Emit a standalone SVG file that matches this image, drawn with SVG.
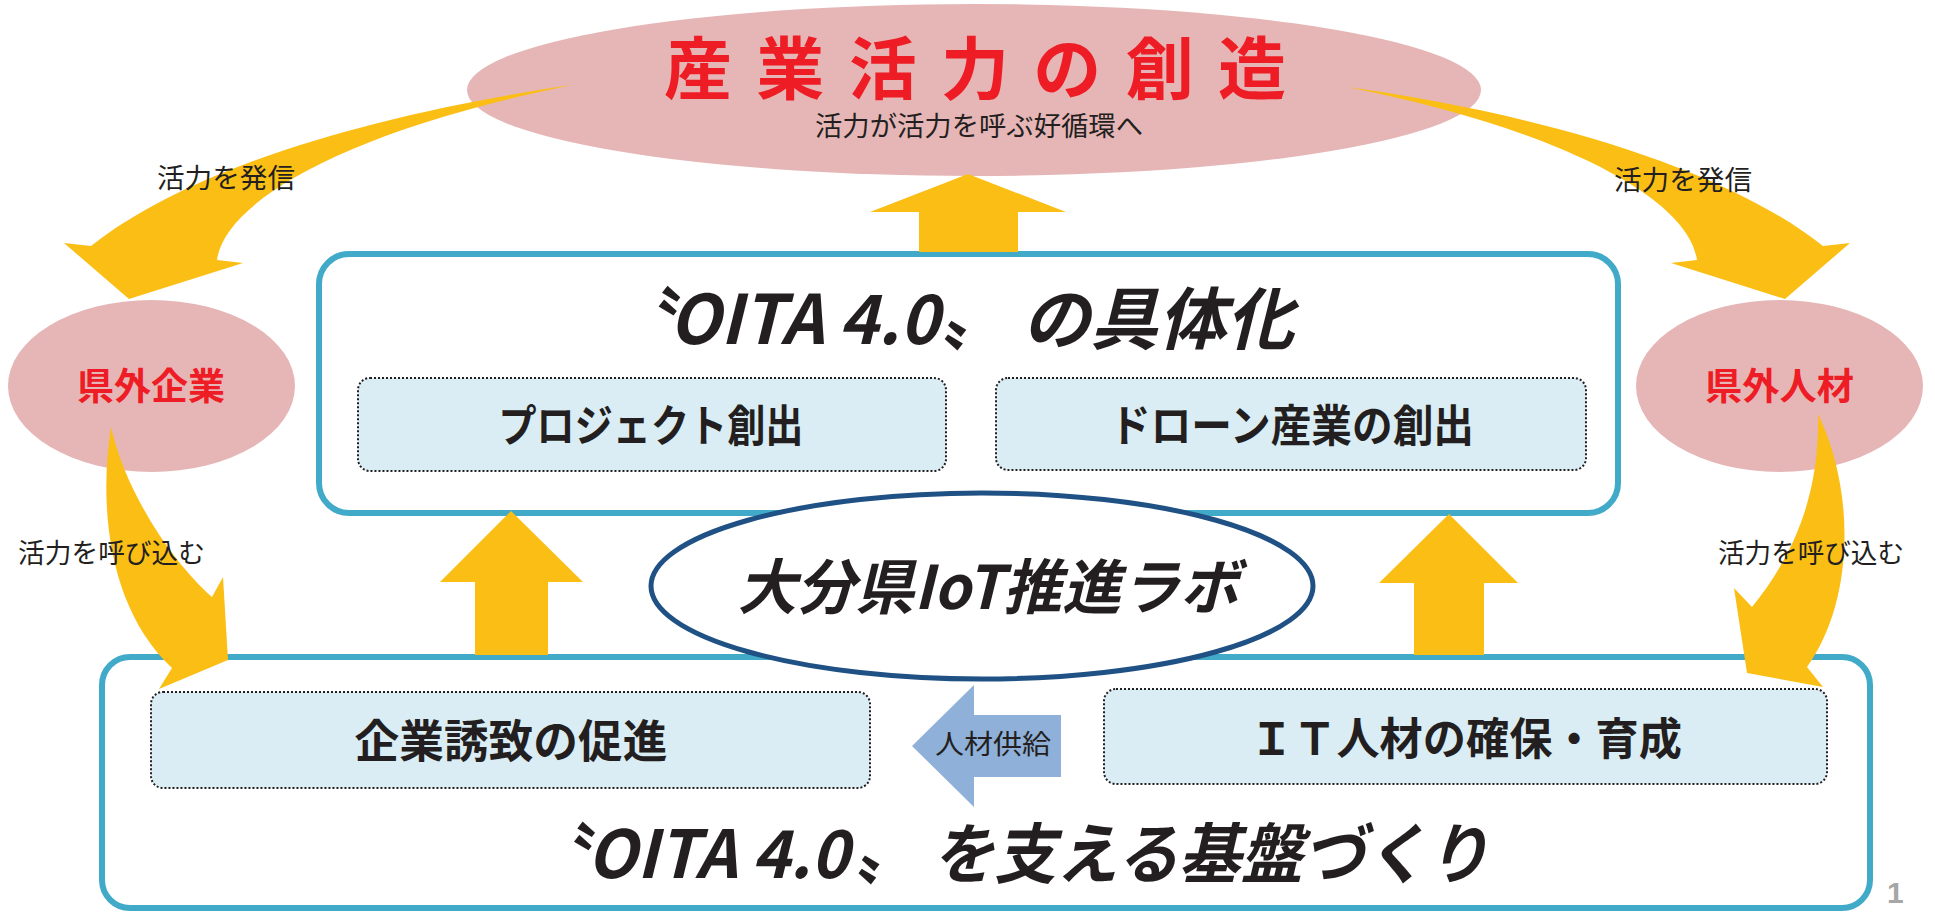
<svg xmlns="http://www.w3.org/2000/svg" width="1935" height="912" viewBox="0 0 1935 912">
<style>
.jp{font-family:"Noto Sans CJK JP","Noto Sans",sans-serif}
.pink{fill:#E6B6B6}
.frame{fill:#FFFFFF;stroke:#41AAC8;stroke-width:6}
.sub{fill:#DAEDF5;stroke:#231F20;stroke-width:2;stroke-dasharray:2 2}
.red{fill:#EE1C25;font-weight:700}
.blk{fill:#231F20}
.b{font-weight:700}
.it{font-style:italic;font-weight:700}
.lbl{fill:#231F20;font-size:27px;font-weight:400}
.yel{fill:#FBBE14}
</style>
<rect width="1935" height="912" fill="#FFFFFF"/>

<g id="top-box">
<rect class="frame" x="319" y="254" width="1299" height="259" rx="30"/>
<text class="jp blk it" y="344" font-size="68"><tspan x="604">〝</tspan><tspan x="669" textLength="270" lengthAdjust="spacingAndGlyphs">OITA 4.0</tspan><tspan x="940">〟</tspan><tspan x="1022" textLength="272" lengthAdjust="spacingAndGlyphs">の具体化</tspan></text>
</g>
<g id="project">
<rect class="sub" x="358" y="378" width="588" height="93" rx="12"/>
<text class="jp blk b" x="651" y="442" font-size="44" text-anchor="middle" textLength="305" lengthAdjust="spacingAndGlyphs">プロジェクト創出</text>
</g>
<g id="drone">
<rect class="sub" x="996" y="378" width="590" height="92" rx="12"/>
<text class="jp blk b" x="1292" y="442" font-size="44" text-anchor="middle" textLength="364" lengthAdjust="spacingAndGlyphs">ドローン産業の創出</text>
</g>

<g id="bottom-box">
<rect class="frame" x="102" y="657" width="1768" height="251" rx="28"/>
<text class="jp blk it" y="878" font-size="66"><tspan x="521">〝</tspan><tspan x="587" textLength="262" lengthAdjust="spacingAndGlyphs">OITA 4.0</tspan><tspan x="854">〟</tspan><tspan x="932" textLength="557" lengthAdjust="spacingAndGlyphs">を支える基盤づくり</tspan></text>
</g>
<g id="attract">
<rect class="sub" x="151" y="692" width="719" height="96" rx="12"/>
<text class="jp blk b" x="511" y="758" font-size="45" text-anchor="middle" textLength="313" lengthAdjust="spacingAndGlyphs">企業誘致の促進</text>
</g>
<g id="it-talent">
<rect class="sub" x="1104" y="689" width="723" height="95" rx="12"/>
<text class="jp blk b" x="1466" y="755" font-size="44" text-anchor="middle" textLength="432" lengthAdjust="spacingAndGlyphs">ＩＴ人材の確保・育成</text>
</g>

<g id="lab">
<ellipse cx="982" cy="586" rx="331" ry="93" fill="#FFFFFF" stroke="#1F5185" stroke-width="5"/>
<text class="jp blk it" x="988" y="609" font-size="60" text-anchor="middle" textLength="501" lengthAdjust="spacingAndGlyphs">大分県IoT推進ラボ</text>
</g>

<g id="creation">
<ellipse class="pink" cx="974" cy="90" rx="507" ry="86"/>
<text class="jp red" x="664" y="94" font-size="68" textLength="622" lengthAdjust="spacing">産業活力の創造</text>
<text class="jp lbl" x="815" y="136" textLength="328" lengthAdjust="spacingAndGlyphs">活力が活力を呼ぶ好循環へ</text>
</g>

<g id="outside-companies">
<ellipse class="pink" cx="151.5" cy="386" rx="143.5" ry="86"/>
<text class="jp red" x="151" y="400" font-size="37" text-anchor="middle" textLength="148" lengthAdjust="spacingAndGlyphs">県外企業</text>
</g>
<g id="outside-talent">
<ellipse class="pink" cx="1779.5" cy="386" rx="143.5" ry="86"/>
<text class="jp red" x="1779.5" y="400" font-size="37" text-anchor="middle" textLength="149" lengthAdjust="spacingAndGlyphs">県外人材</text>
</g>

<g id="connectors">
<polygon class="yel" points="968,174 1066,212 1018,212 1018,252 919,252 919,212 870,212"/>
<polygon class="yel" points="511,511 583,582 548,582 548,655 475,655 475,582 440,582"/>
<polygon class="yel" points="1449,514 1518,583 1484,583 1484,655 1414,655 1414,583 1379,583"/>
<path class="yel" d="M572,85 C400,110 200,160 91,246 L64,243 L129,299 L243,263 L217,260 C225,200 350,130 572,85 Z"/>
<path class="yel" d="M1347,87 C1514,110 1714,160 1823,246 L1850,243 L1785,299 L1671,263 L1697,260 C1689,200 1564,130 1347,87 Z"/>
<path class="yel" d="M111,427 C98,510 110,610 172,668 L159,689 L228,660 L223,577 L212,597 C170,560 125,490 111,427 Z"/>
<path class="yel" d="M1818,414 C1855,490 1855,600 1807,667 L1823,687 L1747,673 L1734,588 L1752,607 C1790,560 1820,500 1818,414 Z"/>
<polygon fill="#8FB0D8" points="912,746 974,685 974,715 1061,715 1061,777 974,777 974,807"/>
<text class="jp lbl" x="157" y="188" textLength="138" lengthAdjust="spacingAndGlyphs">活力を発信</text>
<text class="jp lbl" x="1614" y="190" textLength="138" lengthAdjust="spacingAndGlyphs">活力を発信</text>
<text class="jp lbl" x="18" y="563" textLength="187" lengthAdjust="spacingAndGlyphs">活力を呼び込む</text>
<text class="jp lbl" x="1718" y="563" textLength="186" lengthAdjust="spacingAndGlyphs">活力を呼び込む</text>
<text class="jp lbl" x="935" y="754" font-size="29" textLength="116" lengthAdjust="spacingAndGlyphs">人材供給</text>
</g>

<text x="1887" y="903" font-family="'Liberation Sans',Arial,sans-serif" font-size="30" font-weight="700" fill="#A6A6A6">1</text>
</svg>
